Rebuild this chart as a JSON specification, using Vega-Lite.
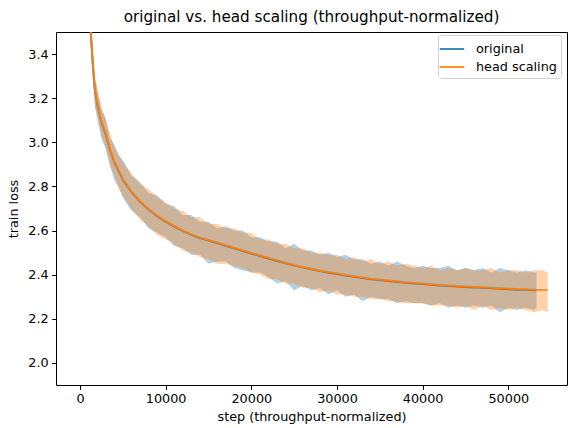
{
  "$schema": "https://vega.github.io/schema/vega-lite/v6.json",
  "width": 511,
  "height": 353,
  "autosize": {"type": "none"},
  "padding": {"left": 56, "top": 32, "right": 2, "bottom": 43},
  "title": {"text": "original vs. head scaling (throughput-normalized)", "fontSize": 15.2, "font": "DejaVu Sans", "fontWeight": "normal", "color": "#000", "anchor": "middle", "offset": 7},
  "data": {"values": [
    {"run": "original", "step": 800, "smooth": 4.40, "lo": 4.32, "hi": 4.47},
    {"run": "original", "step": 1000, "smooth": 3.85, "lo": 3.78, "hi": 3.92},
    {"run": "original", "step": 1250, "smooth": 3.50, "lo": 3.43, "hi": 3.56},
    {"run": "original", "step": 1500, "smooth": 3.35, "lo": 3.30, "hi": 3.42},
    {"run": "original", "step": 1750, "smooth": 3.23, "lo": 3.16, "hi": 3.28},
    {"run": "original", "step": 2000, "smooth": 3.175, "lo": 3.11, "hi": 3.24},
    {"run": "original", "step": 2500, "smooth": 3.09, "lo": 3.02, "hi": 3.15},
    {"run": "original", "step": 3000, "smooth": 3.035, "lo": 2.97, "hi": 3.11},
    {"run": "original", "step": 3500, "smooth": 2.965, "lo": 2.90, "hi": 3.02},
    {"run": "original", "step": 4000, "smooth": 2.91, "lo": 2.83, "hi": 2.99},
    {"run": "original", "step": 4500, "smooth": 2.87, "lo": 2.80, "hi": 2.94},
    {"run": "original", "step": 5000, "smooth": 2.83, "lo": 2.75, "hi": 2.92},
    {"run": "original", "step": 6000, "smooth": 2.775, "lo": 2.69, "hi": 2.85},
    {"run": "original", "step": 7000, "smooth": 2.73, "lo": 2.66, "hi": 2.82},
    {"run": "original", "step": 8000, "smooth": 2.695, "lo": 2.61, "hi": 2.77},
    {"run": "original", "step": 9000, "smooth": 2.665, "lo": 2.59, "hi": 2.76},
    {"run": "original", "step": 10000, "smooth": 2.64, "lo": 2.57, "hi": 2.72},
    {"run": "original", "step": 11000, "smooth": 2.618, "lo": 2.53, "hi": 2.71},
    {"run": "original", "step": 12000, "smooth": 2.598, "lo": 2.52, "hi": 2.67},
    {"run": "original", "step": 13000, "smooth": 2.58, "lo": 2.49, "hi": 2.67},
    {"run": "original", "step": 14000, "smooth": 2.566, "lo": 2.49, "hi": 2.64},
    {"run": "original", "step": 15000, "smooth": 2.554, "lo": 2.45, "hi": 2.64},
    {"run": "original", "step": 16000, "smooth": 2.543, "lo": 2.46, "hi": 2.61},
    {"run": "original", "step": 17000, "smooth": 2.531, "lo": 2.46, "hi": 2.62},
    {"run": "original", "step": 18000, "smooth": 2.519, "lo": 2.43, "hi": 2.60},
    {"run": "original", "step": 19000, "smooth": 2.507, "lo": 2.42, "hi": 2.60},
    {"run": "original", "step": 20000, "smooth": 2.496, "lo": 2.41, "hi": 2.57},
    {"run": "original", "step": 21000, "smooth": 2.484, "lo": 2.41, "hi": 2.57},
    {"run": "original", "step": 22000, "smooth": 2.473, "lo": 2.39, "hi": 2.55},
    {"run": "original", "step": 23000, "smooth": 2.462, "lo": 2.36, "hi": 2.55},
    {"run": "original", "step": 24000, "smooth": 2.451, "lo": 2.37, "hi": 2.52},
    {"run": "original", "step": 25000, "smooth": 2.441, "lo": 2.33, "hi": 2.54},
    {"run": "original", "step": 26000, "smooth": 2.433, "lo": 2.35, "hi": 2.51},
    {"run": "original", "step": 27000, "smooth": 2.424, "lo": 2.33, "hi": 2.51},
    {"run": "original", "step": 28000, "smooth": 2.416, "lo": 2.34, "hi": 2.49},
    {"run": "original", "step": 29000, "smooth": 2.409, "lo": 2.31, "hi": 2.50},
    {"run": "original", "step": 30000, "smooth": 2.403, "lo": 2.33, "hi": 2.48},
    {"run": "original", "step": 31000, "smooth": 2.396, "lo": 2.30, "hi": 2.49},
    {"run": "original", "step": 32000, "smooth": 2.39, "lo": 2.31, "hi": 2.47},
    {"run": "original", "step": 33000, "smooth": 2.385, "lo": 2.28, "hi": 2.47},
    {"run": "original", "step": 34000, "smooth": 2.379, "lo": 2.30, "hi": 2.45},
    {"run": "original", "step": 35000, "smooth": 2.375, "lo": 2.29, "hi": 2.46},
    {"run": "original", "step": 36000, "smooth": 2.371, "lo": 2.29, "hi": 2.44},
    {"run": "original", "step": 37000, "smooth": 2.367, "lo": 2.27, "hi": 2.46},
    {"run": "original", "step": 38000, "smooth": 2.363, "lo": 2.28, "hi": 2.44},
    {"run": "original", "step": 39000, "smooth": 2.36, "lo": 2.27, "hi": 2.43},
    {"run": "original", "step": 40000, "smooth": 2.357, "lo": 2.27, "hi": 2.44},
    {"run": "original", "step": 41000, "smooth": 2.354, "lo": 2.26, "hi": 2.43},
    {"run": "original", "step": 42000, "smooth": 2.351, "lo": 2.27, "hi": 2.43},
    {"run": "original", "step": 43000, "smooth": 2.348, "lo": 2.25, "hi": 2.44},
    {"run": "original", "step": 44000, "smooth": 2.346, "lo": 2.26, "hi": 2.42},
    {"run": "original", "step": 45000, "smooth": 2.344, "lo": 2.25, "hi": 2.43},
    {"run": "original", "step": 46000, "smooth": 2.342, "lo": 2.26, "hi": 2.42},
    {"run": "original", "step": 47000, "smooth": 2.34, "lo": 2.25, "hi": 2.43},
    {"run": "original", "step": 48000, "smooth": 2.338, "lo": 2.26, "hi": 2.41},
    {"run": "original", "step": 49000, "smooth": 2.336, "lo": 2.23, "hi": 2.43},
    {"run": "original", "step": 50000, "smooth": 2.334, "lo": 2.25, "hi": 2.42},
    {"run": "original", "step": 51000, "smooth": 2.332, "lo": 2.24, "hi": 2.41},
    {"run": "original", "step": 52000, "smooth": 2.331, "lo": 2.25, "hi": 2.42},
    {"run": "original", "step": 53000, "smooth": 2.329, "lo": 2.24, "hi": 2.41},
    {"run": "original", "step": 53300, "smooth": 2.329, "lo": 2.25, "hi": 2.41},
    {"run": "head scaling", "step": 800, "smooth": 4.41, "lo": 4.33, "hi": 4.48},
    {"run": "head scaling", "step": 1000, "smooth": 3.86, "lo": 3.79, "hi": 3.93},
    {"run": "head scaling", "step": 1250, "smooth": 3.51, "lo": 3.44, "hi": 3.58},
    {"run": "head scaling", "step": 1500, "smooth": 3.355, "lo": 3.29, "hi": 3.41},
    {"run": "head scaling", "step": 1750, "smooth": 3.235, "lo": 3.17, "hi": 3.30},
    {"run": "head scaling", "step": 2000, "smooth": 3.18, "lo": 3.12, "hi": 3.25},
    {"run": "head scaling", "step": 2500, "smooth": 3.095, "lo": 3.03, "hi": 3.16},
    {"run": "head scaling", "step": 3000, "smooth": 3.04, "lo": 2.98, "hi": 3.10},
    {"run": "head scaling", "step": 3500, "smooth": 2.97, "lo": 2.89, "hi": 3.04},
    {"run": "head scaling", "step": 4000, "smooth": 2.915, "lo": 2.85, "hi": 2.98},
    {"run": "head scaling", "step": 4500, "smooth": 2.874, "lo": 2.79, "hi": 2.95},
    {"run": "head scaling", "step": 5000, "smooth": 2.834, "lo": 2.76, "hi": 2.91},
    {"run": "head scaling", "step": 6000, "smooth": 2.778, "lo": 2.70, "hi": 2.86},
    {"run": "head scaling", "step": 7000, "smooth": 2.733, "lo": 2.65, "hi": 2.81},
    {"run": "head scaling", "step": 8000, "smooth": 2.698, "lo": 2.62, "hi": 2.79},
    {"run": "head scaling", "step": 9000, "smooth": 2.668, "lo": 2.58, "hi": 2.75},
    {"run": "head scaling", "step": 10000, "smooth": 2.643, "lo": 2.56, "hi": 2.73},
    {"run": "head scaling", "step": 11000, "smooth": 2.621, "lo": 2.54, "hi": 2.70},
    {"run": "head scaling", "step": 12000, "smooth": 2.601, "lo": 2.51, "hi": 2.69},
    {"run": "head scaling", "step": 13000, "smooth": 2.583, "lo": 2.50, "hi": 2.66},
    {"run": "head scaling", "step": 14000, "smooth": 2.569, "lo": 2.48, "hi": 2.66},
    {"run": "head scaling", "step": 15000, "smooth": 2.557, "lo": 2.47, "hi": 2.63},
    {"run": "head scaling", "step": 16000, "smooth": 2.546, "lo": 2.45, "hi": 2.63},
    {"run": "head scaling", "step": 17000, "smooth": 2.534, "lo": 2.45, "hi": 2.61},
    {"run": "head scaling", "step": 18000, "smooth": 2.522, "lo": 2.44, "hi": 2.61},
    {"run": "head scaling", "step": 19000, "smooth": 2.51, "lo": 2.43, "hi": 2.59},
    {"run": "head scaling", "step": 20000, "smooth": 2.499, "lo": 2.41, "hi": 2.59},
    {"run": "head scaling", "step": 21000, "smooth": 2.487, "lo": 2.40, "hi": 2.56},
    {"run": "head scaling", "step": 22000, "smooth": 2.476, "lo": 2.38, "hi": 2.56},
    {"run": "head scaling", "step": 23000, "smooth": 2.465, "lo": 2.38, "hi": 2.54},
    {"run": "head scaling", "step": 24000, "smooth": 2.454, "lo": 2.36, "hi": 2.54},
    {"run": "head scaling", "step": 25000, "smooth": 2.444, "lo": 2.36, "hi": 2.52},
    {"run": "head scaling", "step": 26000, "smooth": 2.436, "lo": 2.34, "hi": 2.52},
    {"run": "head scaling", "step": 27000, "smooth": 2.427, "lo": 2.34, "hi": 2.50},
    {"run": "head scaling", "step": 28000, "smooth": 2.419, "lo": 2.32, "hi": 2.50},
    {"run": "head scaling", "step": 29000, "smooth": 2.412, "lo": 2.33, "hi": 2.49},
    {"run": "head scaling", "step": 30000, "smooth": 2.406, "lo": 2.31, "hi": 2.49},
    {"run": "head scaling", "step": 31000, "smooth": 2.399, "lo": 2.31, "hi": 2.47},
    {"run": "head scaling", "step": 32000, "smooth": 2.393, "lo": 2.30, "hi": 2.48},
    {"run": "head scaling", "step": 33000, "smooth": 2.388, "lo": 2.30, "hi": 2.46},
    {"run": "head scaling", "step": 34000, "smooth": 2.382, "lo": 2.29, "hi": 2.47},
    {"run": "head scaling", "step": 35000, "smooth": 2.378, "lo": 2.29, "hi": 2.45},
    {"run": "head scaling", "step": 36000, "smooth": 2.374, "lo": 2.28, "hi": 2.46},
    {"run": "head scaling", "step": 37000, "smooth": 2.37, "lo": 2.28, "hi": 2.44},
    {"run": "head scaling", "step": 38000, "smooth": 2.366, "lo": 2.27, "hi": 2.45},
    {"run": "head scaling", "step": 39000, "smooth": 2.363, "lo": 2.27, "hi": 2.44},
    {"run": "head scaling", "step": 40000, "smooth": 2.36, "lo": 2.27, "hi": 2.43},
    {"run": "head scaling", "step": 41000, "smooth": 2.357, "lo": 2.26, "hi": 2.44},
    {"run": "head scaling", "step": 42000, "smooth": 2.354, "lo": 2.26, "hi": 2.42},
    {"run": "head scaling", "step": 43000, "smooth": 2.351, "lo": 2.26, "hi": 2.43},
    {"run": "head scaling", "step": 44000, "smooth": 2.349, "lo": 2.25, "hi": 2.42},
    {"run": "head scaling", "step": 45000, "smooth": 2.347, "lo": 2.26, "hi": 2.43},
    {"run": "head scaling", "step": 46000, "smooth": 2.345, "lo": 2.24, "hi": 2.42},
    {"run": "head scaling", "step": 47000, "smooth": 2.343, "lo": 2.26, "hi": 2.42},
    {"run": "head scaling", "step": 48000, "smooth": 2.341, "lo": 2.24, "hi": 2.43},
    {"run": "head scaling", "step": 49000, "smooth": 2.339, "lo": 2.25, "hi": 2.41},
    {"run": "head scaling", "step": 50000, "smooth": 2.337, "lo": 2.24, "hi": 2.42},
    {"run": "head scaling", "step": 51000, "smooth": 2.335, "lo": 2.25, "hi": 2.42},
    {"run": "head scaling", "step": 52000, "smooth": 2.334, "lo": 2.24, "hi": 2.41},
    {"run": "head scaling", "step": 53000, "smooth": 2.332, "lo": 2.23, "hi": 2.42},
    {"run": "head scaling", "step": 54000, "smooth": 2.331, "lo": 2.24, "hi": 2.42},
    {"run": "head scaling", "step": 54600, "smooth": 2.330, "lo": 2.23, "hi": 2.41}
  ]},
  "encoding": {
    "x": {"field": "step", "type": "quantitative", "title": "step (throughput-normalized)",
      "scale": {"domain": [-2800, 56850], "nice": false, "zero": false},
      "axis": {"values": [0, 10000, 20000, 30000, 40000, 50000], "format": "d", "titlePadding": 5}}
  },
  "layer": [
    {
      "transform": [{"filter": "datum.run === 'original'"}],
      "mark": {"type": "area", "clip": true, "color": "#1f77b4", "opacity": 0.35},
      "encoding": {
        "y": {"field": "lo", "type": "quantitative", "title": "train loss",
          "scale": {"domain": [1.9, 3.5], "nice": false, "zero": false},
          "axis": {"values": [2.0, 2.2, 2.4, 2.6, 2.8, 3.0, 3.2, 3.4], "format": ".1f", "titlePadding": 7}},
        "y2": {"field": "hi"}
      }
    },
    {
      "transform": [{"filter": "datum.run === 'original'"}],
      "mark": {"type": "line", "clip": true, "strokeWidth": 1.9, "opacity": 0.9},
      "encoding": {
        "y": {"field": "smooth", "type": "quantitative"},
        "color": {"field": "run", "type": "nominal",
          "scale": {"domain": ["original", "head scaling"], "range": ["#1f77b4", "#ff7f0e"]},
          "legend": {"title": null, "orient": "none", "legendX": 382, "legendY": 3, "symbolType": "M-1.35,0H1.35", "symbolSize": 324, "symbolStrokeWidth": 1.9, "symbolOpacity": 0.75, "labelFontSize": 12.8, "labelFont": "DejaVu Sans", "labelColor": "#000", "labelOffset": 14, "rowPadding": 1, "padding": 4, "fillColor": "white", "strokeColor": "#d0d0d0", "cornerRadius": 3}}
      }
    },
    {
      "transform": [{"filter": "datum.run === 'head scaling'"}],
      "mark": {"type": "area", "clip": true, "color": "#ff7f0e", "opacity": 0.35},
      "encoding": {
        "y": {"field": "lo", "type": "quantitative"},
        "y2": {"field": "hi"}
      }
    },
    {
      "transform": [{"filter": "datum.run === 'head scaling'"}],
      "mark": {"type": "line", "clip": true, "strokeWidth": 1.9, "opacity": 0.9},
      "encoding": {
        "y": {"field": "smooth", "type": "quantitative"},
        "color": {"field": "run", "type": "nominal"}
      }
    }
  ],
  "config": {
    "font": "DejaVu Sans",
    "view": {"stroke": "#000", "strokeWidth": 1},
    "axis": {"grid": false, "domain": false, "tickColor": "#000", "tickSize": 4.3, "tickWidth": 1, "labelFontSize": 12.8, "labelColor": "#000", "labelPadding": 3.5, "titleFontSize": 12.8, "titleFontWeight": "normal", "titleColor": "#000", "labelFont": "DejaVu Sans", "titleFont": "DejaVu Sans"}
  }
}
